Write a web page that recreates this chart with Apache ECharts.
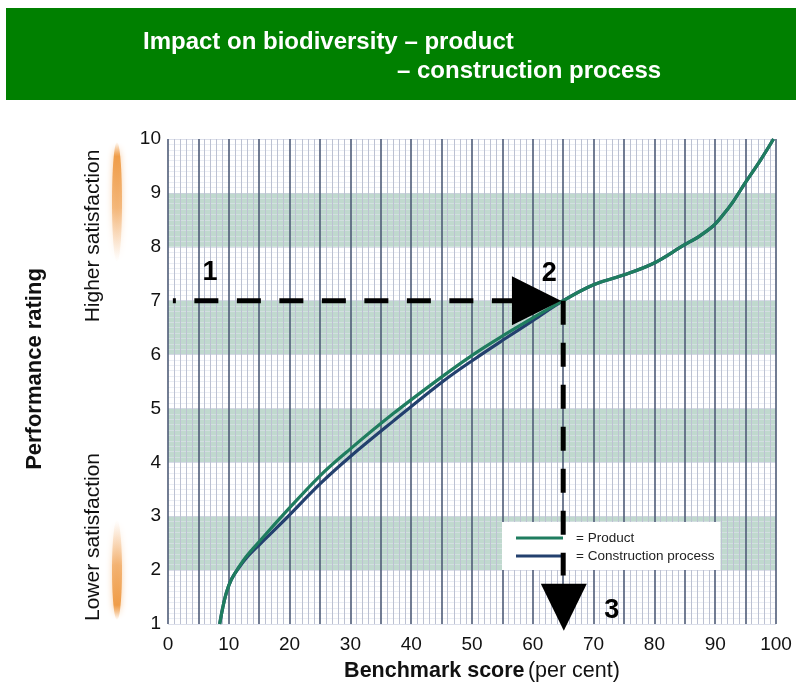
<!DOCTYPE html>
<html>
<head>
<meta charset="utf-8">
<script src="https://cdn.jsdelivr.net/npm/echarts@6/dist/echarts.min.js"></script>
<style>
html,body{margin:0;padding:0;background:#fff;}
#c{width:796px;height:687px;}
</style>
</head>
<body>
<div id="c"></div>
<script>
// ---- data ----
const titleLines = ['Impact on biodiversity \u2013 product', '\u2013 construction process'];
const seriesNames = ['Product', 'Construction process'];
const benchmark = [8.5, 9.0, 9.6, 10.4, 11.5, 13, 15.1, 18.9, 25, 29.9, 37, 45.2, 50.2, 55.1, 60, 65, 69.9, 74.8, 79.8, 84.7, 87.3, 89.6, 91.2, 92.9, 94.9, 97.4, 99.6];
const productRating = [1, 1.3, 1.58, 1.82, 2.03, 2.27, 2.54, 3.02, 3.75, 4.24, 4.9, 5.6, 6.0, 6.35, 6.68, 7.0, 7.29, 7.47, 7.69, 8.02, 8.19, 8.38, 8.58, 8.83, 9.18, 9.6, 10];
const constructionRating = [1, 1.3, 1.58, 1.82, 2.02, 2.24, 2.48, 2.9, 3.6, 4.1, 4.76, 5.5, 5.9, 6.27, 6.63, 7.0, 7.29, 7.47, 7.69, 8.02, 8.19, 8.38, 8.58, 8.83, 9.18, 9.6, 10];
// reading guide: from rating 7 across to the curve, then down to the score
const guideRating = 7;
const guideScore = 65;
const guideHStart = 0.8;
const guideHEnd = 57;
const guideVEnd = 1.9;
const arrowRight = [60.6, 7];
const arrowDown = [65.1, 1.31];
const stepLabels = ['1', '2', '3'];
const stepX = [6.9, 62.7, 73.0];
const stepY = [7.53, 7.5, 1.25];
const xAxisName = ['Benchmark score', '(per cent)'];
const yAxisName = 'Performance rating';
const sideLabels = ['Higher satisfaction', 'Lower satisfaction'];

const green = '#1f7d5f';
const navy = '#23406e';
const F = 'Liberation Sans, Arial, sans-serif';

const chart = echarts.init(document.getElementById('c'), null, {renderer: 'canvas'});

const zip = (xs, ys) => xs.map((x, i) => [x, ys[i]]);

chart.setOption({
  animation: false,
  backgroundColor: '#ffffff',
  graphic: [
    {type: 'rect', shape: {x: 6, y: 8, width: 790, height: 92}, style: {fill: '#008000'}, z: 0},
    {type: 'text', left: 143, top: 30, style: {text: titleLines[0], fill: '#fff', font: 'bold 24px ' + F}},
    {type: 'text', left: 397, top: 59, style: {text: titleLines[1], fill: '#fff', font: 'bold 24px ' + F}},
    {type: 'text', x: 35, y: 369, rotation: Math.PI / 2, style: {text: yAxisName, fill: '#111', font: 'bold 22px ' + F, align: 'center', verticalAlign: 'middle'}},
    {type: 'text', x: 93, y: 236, rotation: Math.PI / 2, style: {text: sideLabels[0], fill: '#111', font: '21px ' + F, align: 'center', verticalAlign: 'middle'}},
    {type: 'text', x: 93, y: 537, rotation: Math.PI / 2, style: {text: sideLabels[1], fill: '#111', font: '21px ' + F, align: 'center', verticalAlign: 'middle'}},
    {type: 'ellipse', shape: {cx: 117, cy: 202, rx: 5, ry: 60},
      style: {fill: new echarts.graphic.LinearGradient(0, 0, 0, 1, [
        {offset: 0, color: 'rgba(240,150,60,0)'},
        {offset: 0.12, color: 'rgba(238,150,60,0.9)'},
        {offset: 0.55, color: 'rgba(240,160,80,0.65)'},
        {offset: 1, color: 'rgba(245,190,140,0)'}]),
        shadowBlur: 6, shadowColor: 'rgba(240,160,80,0.6)'}},
    {type: 'ellipse', shape: {cx: 117, cy: 570, rx: 5, ry: 50},
      style: {fill: new echarts.graphic.LinearGradient(0, 0, 0, 1, [
        {offset: 0, color: 'rgba(245,190,140,0)'},
        {offset: 0.45, color: 'rgba(240,160,80,0.7)'},
        {offset: 0.85, color: 'rgba(238,150,60,0.9)'},
        {offset: 1, color: 'rgba(240,150,60,0)'}]),
        shadowBlur: 6, shadowColor: 'rgba(240,160,80,0.6)'}}
  ],
  grid: {left: 168, right: 20, top: 139, bottom: 57, containLabel: false},
  legend: {
    data: seriesNames,
    orient: 'vertical',
    left: 502, top: 522,
    backgroundColor: '#ffffff',
    padding: [9, 6, 7, 14],
    itemGap: 4,
    itemWidth: 47, itemHeight: 3,
    icon: 'rect',
    z: 1,
    formatter: n => '= ' + n,
    textStyle: {fontFamily: F, fontSize: 13.5, color: '#222', padding: [0, 0, 0, 8]},
    selectedMode: false
  },
  xAxis: {
    type: 'value', min: 0, max: 100, interval: 5,
    name: '{b|' + xAxisName[0] + '} {r|' + xAxisName[1] + '}',
    nameLocation: 'middle', nameGap: 36,
    nameTextStyle: {padding: [0, 0, 0, 20], rich: {
      b: {fontFamily: F, fontSize: 21.5, fontWeight: 'bold', color: '#111'},
      r: {fontFamily: F, fontSize: 21.5, color: '#111'}}},
    axisLine: {show: false}, axisTick: {show: false},
    axisLabel: {margin: 11, fontFamily: F, fontSize: 19, color: '#111',
      formatter: v => (v % 10 === 0 ? String(v) : '')},
    splitLine: {show: true, lineStyle: {color: '#4f5c78', width: 1.6}},
    minorTick: {show: false, splitNumber: 5},
    minorSplitLine: {show: true, lineStyle: {color: '#bcc1d2', width: 1}}
  },
  yAxis: {
    type: 'value', min: 1, max: 10, interval: 1,
    axisLine: {show: false}, axisTick: {show: false},
    axisLabel: {margin: 7, fontFamily: F, fontSize: 19, color: '#111'},
    splitLine: {show: true, lineStyle: {color: 'rgba(205,210,225,0.7)', width: 1}},
    minorTick: {show: false, splitNumber: 10},
    minorSplitLine: {show: true, lineStyle: {color: 'rgba(222,226,236,0.6)', width: 1}},
    splitArea: {show: true, areaStyle: {color: ['rgba(255,255,255,0)', 'rgba(150,192,174,0.6)']}}
  },
  series: [
    {
      name: seriesNames[1], type: 'line', data: zip(benchmark, constructionRating),
      smooth: 0.35, showSymbol: false, symbol: 'none', z: 3,
      lineStyle: {color: navy, width: 3.2}, itemStyle: {color: navy}
    },
    {
      name: seriesNames[0], type: 'line', data: zip(benchmark, productRating),
      smooth: 0.35, showSymbol: false, symbol: 'none', z: 4,
      lineStyle: {color: green, width: 3.2}, itemStyle: {color: green}
    },
    {
      name: 'guideH', type: 'line', data: [[guideHStart, guideRating], [guideHEnd, guideRating]],
      symbol: 'none', z: 5, silent: true,
      lineStyle: {color: '#000', width: 5, type: [24, 18.5], dashOffset: 21}
    },
    {
      name: 'guideV', type: 'line', data: [[guideScore, guideRating], [guideScore, guideVEnd]],
      symbol: 'none', z: 5, silent: true,
      lineStyle: {color: '#000', width: 5, type: [24, 18], dashOffset: 0}
    },
    {
      name: 'arrows', type: 'scatter', clip: false, z: 6, silent: true,
      data: [
        {value: arrowRight, symbol: 'triangle', symbolSize: [49, 49], symbolRotate: -90},
        {value: arrowDown, symbol: 'triangle', symbolSize: [46, 47], symbolRotate: 180}
      ],
      itemStyle: {color: '#000', opacity: 1}
    },
    {
      name: 'steps', type: 'scatter', clip: false, z: 6, silent: true, symbolSize: 0,
      itemStyle: {opacity: 1},
      data: stepLabels.map((t, i) => ({value: [stepX[i], stepY[i]], name: t})),
      label: {show: true, position: 'inside', formatter: p => p.name,
        fontFamily: F, fontSize: 27, fontWeight: 'bold', color: '#000', opacity: 1}
    }
  ]
});
</script>
</body>
</html>
